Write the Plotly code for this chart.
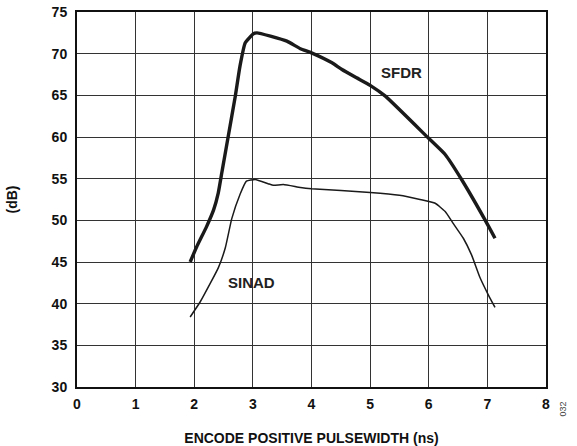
import plotly.graph_objects as go

sfdr_x = [1.93, 2.04, 2.21, 2.33, 2.41, 2.47, 2.51, 2.58, 2.70, 2.78, 2.87, 3.01, 3.07, 3.30, 3.58, 3.81, 4.00, 4.35, 4.52, 4.77, 5.00, 5.26, 5.99, 6.28, 6.56, 6.96, 7.13]
sfdr_y = [45.0, 46.8, 49.25, 51.25, 53.3, 55.7, 57.3, 60.1, 64.9, 68.5, 71.3, 72.4, 72.5, 72.1, 71.5, 70.6, 70.1, 68.9, 68.1, 67.1, 66.2, 64.9, 59.9, 57.9, 54.9, 50.05, 47.85]

sinad_x = [1.93, 2.10, 2.27, 2.41, 2.53, 2.64, 2.78, 2.89, 3.04, 3.26, 3.35, 3.52, 3.81, 4.00, 5.00, 5.50, 5.85, 6.11, 6.28, 6.42, 6.59, 6.73, 6.87, 7.02, 7.13]
sinad_y = [38.4, 40.2, 42.4, 44.3, 46.7, 50.2, 53.1, 54.7, 54.9, 54.4, 54.2, 54.3, 53.95, 53.8, 53.35, 53.0, 52.5, 52.05, 51.05, 49.6, 47.85, 45.85, 43.2, 41.0, 39.55]

x_ticks = [0, 1, 2, 3, 4, 5, 6, 7, 8]
y_ticks = [30, 35, 40, 45, 50, 55, 60, 65, 70, 75]

font = "Liberation Sans, Arial, sans-serif"

fig = go.Figure()
fig.add_trace(go.Scatter(x=sfdr_x, y=sfdr_y, mode="lines",
                         line=dict(color="#1a1a1a", width=3.4, shape="spline", smoothing=0.4),
                         showlegend=False))
fig.add_trace(go.Scatter(x=sinad_x, y=sinad_y, mode="lines",
                         line=dict(color="#1a1a1a", width=1.5, shape="spline", smoothing=0.4),
                         showlegend=False))

fig.add_annotation(x=5.54, y=67.8, text="<b>SFDR</b>", showarrow=False,
                   font=dict(family=font, size=15, color="#222"))
fig.add_annotation(x=2.98, y=42.6, text="<b>SINAD</b>", showarrow=False,
                   font=dict(family=font, size=15, color="#222"))
fig.add_annotation(xref="paper", yref="paper", x=1.051, y=-0.083, text="032",
                   textangle=-90, showarrow=False,
                   font=dict(family=font, size=9, color="#444"))

fig.update_layout(
    width=577, height=446,
    margin=dict(l=77, r=31, t=12, b=59, autoexpand=False),
    paper_bgcolor="white", plot_bgcolor="white",
    font=dict(family=font, color="#111"),
    xaxis=dict(range=[0, 8], tickvals=x_ticks, ticktext=[f"<b>{v}</b>" for v in x_ticks],
               showgrid=True, gridcolor="#333", gridwidth=1.3,
               showline=True, linecolor="#111", linewidth=2, mirror=True,
               ticks="", zeroline=False, tickfont=dict(size=14), automargin=False,
               ticklabelstandoff=3,
               title=dict(text="<b>ENCODE POSITIVE PULSEWIDTH (ns)</b>", font=dict(size=14), standoff=24)),
    yaxis=dict(range=[30, 75], tickvals=y_ticks, ticktext=[f"<b>{v}</b>" for v in y_ticks],
               showgrid=True, gridcolor="#333", gridwidth=1.3,
               showline=True, linecolor="#111", linewidth=2, mirror=True,
               ticks="", zeroline=False, tickfont=dict(size=14), automargin=False,
               ticklabelstandoff=5,
               title=dict(text="<b>(dB)</b>", font=dict(size=14), standoff=31)),
)

fig.write_html("out.html", config={"displayModeBar": False},
               post_script="document.body.style.margin='0';document.body.style.padding='0';")
